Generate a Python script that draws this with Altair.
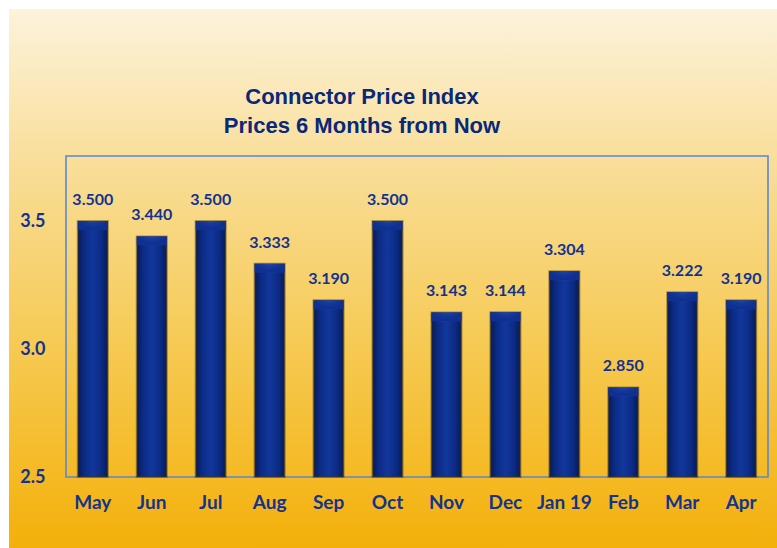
import altair as alt
import pandas as pd

months = ["May", "Jun", "Jul", "Aug", "Sep", "Oct", "Nov", "Dec", "Jan 19", "Feb", "Mar", "Apr"]
values = [3.500, 3.440, 3.500, 3.333, 3.190, 3.500, 3.143, 3.144, 3.304, 2.850, 3.222, 3.190]
title_lines = ["Connector Price Index", "Prices 6 Months from Now"]
y_ticks = [2.5, 3.0, 3.5]

df = pd.DataFrame({"month": months, "value": values})
df["label"] = [f"{v:.3f}" for v in values]

W, H = 702, 321
FONT = "Lato"
NAVY = "#12338f"

x_enc = alt.X("month:N", sort=months, title=None,
              scale=alt.Scale(paddingInner=0.49, paddingOuter=0.2),
              axis=alt.Axis(labelFont=FONT, labelFontSize=19, labelFontWeight="bold",
                            labelColor=NAVY, labelAngle=0, ticks=False, domain=False,
                            grid=False, labelPadding=16, zindex=2))
y_enc = alt.Y("value:Q", title=None,
              scale=alt.Scale(domain=[2.5, 3.754], nice=False, zero=False),
              axis=alt.Axis(values=y_ticks, format=".1f", labelFont=FONT, labelFontSize=18,
                            labelFontWeight="bold", labelColor=NAVY, ticks=False, domain=False,
                            grid=False, labelPadding=21, zindex=2))

bg = alt.Chart(pd.DataFrame({"a": [0]})).mark_rect(
    color=alt.Gradient(gradient="linear",
                       stops=[alt.GradientStop(color="#fdf3dc", offset=0),
                              alt.GradientStop(color="#f9dd96", offset=0.3),
                              alt.GradientStop(color="#f6c84e", offset=0.65),
                              alt.GradientStop(color="#f4b00a", offset=1)],
                       x1=0, x2=0, y1=0, y2=1)
).encode(x=alt.value(-57), x2=alt.value(W + 9), y=alt.value(-147), y2=alt.value(H + 71))

frame = alt.Chart(pd.DataFrame({"a": [0]})).mark_rect(
    fillOpacity=0, stroke="#5a88d2", strokeWidth=1.6
).encode(x=alt.value(0), x2=alt.value(W), y=alt.value(0), y2=alt.value(H))

bars = alt.Chart(df).mark_bar(
    color=alt.Gradient(gradient="linear",
                       stops=[alt.GradientStop(color="#071a55", offset=0),
                              alt.GradientStop(color="#0b2a82", offset=0.2),
                              alt.GradientStop(color="#12379c", offset=0.5),
                              alt.GradientStop(color="#0b2a82", offset=0.8),
                              alt.GradientStop(color="#071a55", offset=1)],
                       x1=0, x2=1, y1=0, y2=0),
    stroke="#4a3a10", strokeOpacity=0.45, strokeWidth=2
).encode(x=x_enc, y=y_enc, y2=alt.datum(2.5))

cap = alt.Chart(df).transform_calculate(
    capb="datum.value - 0.035"
).mark_bar(
    color=alt.Gradient(gradient="radial",
                       stops=[alt.GradientStop(color="#6f95f0", offset=0),
                              alt.GradientStop(color="#4169cf", offset=0.35),
                              alt.GradientStop(color="#163a9e", offset=0.7),
                              alt.GradientStop(color="#0f3090", offset=1)],
                       x1=0.5, y1=0, r1=0, x2=0.5, y2=0, r2=0.6)
).encode(x=x_enc, y=y_enc, y2="capb:Q")

labels = alt.Chart(df).mark_text(
    font=FONT, fontSize=16, fontWeight="bold", color=NAVY, dy=-21, baseline="middle"
).encode(x=x_enc, y=y_enc, text="label:N")

tdf = pd.DataFrame({"t": title_lines, "yy": [-59, -30]})
ttext = alt.Chart(tdf).mark_text(
    font="Liberation Sans", fontSize=22, fontWeight="bold", color="#0a2878"
).encode(x=alt.value(296), y=alt.Y("yy:Q", scale=None), text="t:N")

chart = alt.layer(bg, frame, bars, cap, labels, ttext).properties(
    width=W, height=H,
    padding={"left": 66, "top": 156, "right": 9, "bottom": 71},
    autosize=alt.AutoSizeParams(type="none"),
    background="white"
).configure_view(stroke="transparent")

chart.save("out.html", embed_options={"renderer": "svg", "actions": False})
